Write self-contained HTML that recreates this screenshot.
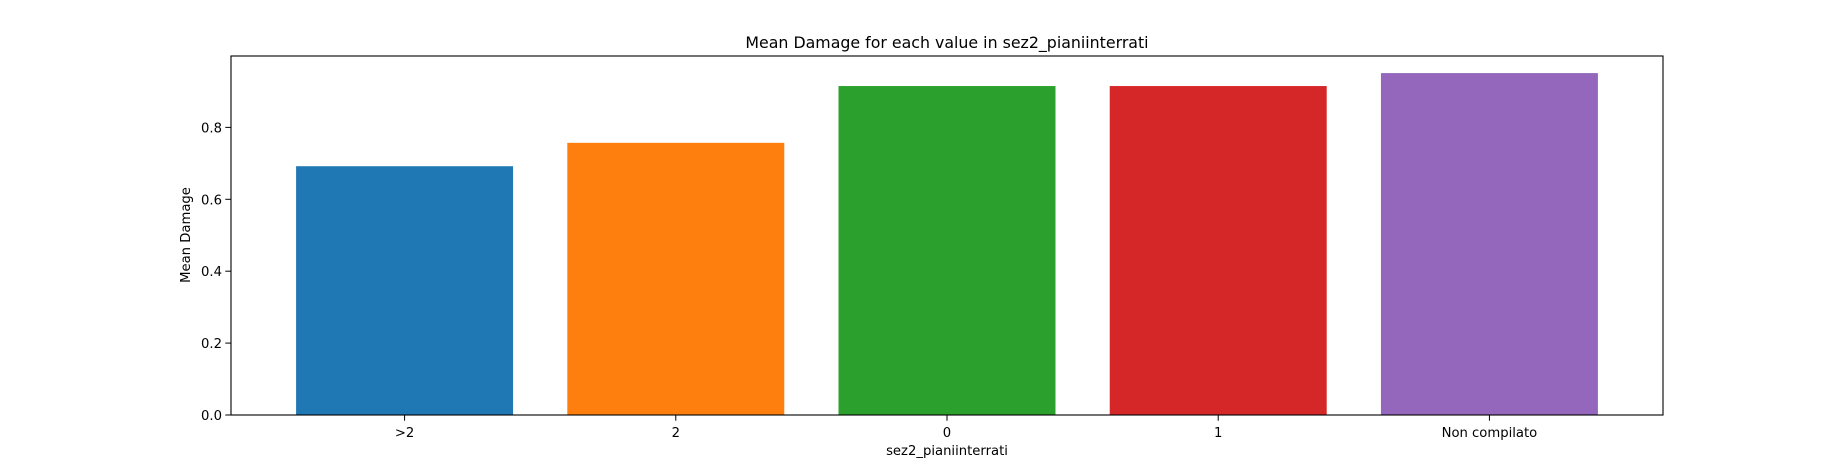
<!DOCTYPE html>
<html><head><meta charset="utf-8"><style>
body{margin:0;background:#fff}
svg{display:block;font-family:"DejaVu Sans","Liberation Sans",sans-serif}
</style></head><body>
<svg id="chart" width="1848" height="466" viewBox="0 0 1848 466" xmlns="http://www.w3.org/2000/svg">
<rect width="1848" height="466" fill="#fff"/>
<text x="947" y="48" font-size="15.8" text-anchor="middle">Mean Damage for each value in sez2_pianiinterrati</text>
<g id="bars"></g>
<g id="axes"></g>
<text x="947" y="455" font-size="13.2" text-anchor="middle">sez2_pianiinterrati</text>
<text transform="translate(190,235) rotate(-90)" font-size="13.2" text-anchor="middle">Mean Damage</text>
</svg>
<script>
const categories = [">2","2","0","1","Non compilato"];
const values = [0.692, 0.757, 0.915, 0.915, 0.951];
const colors = ["#1f77b4","#ff7f0e","#2ca02c","#d62728","#9467bd"];
const yTicks = [0.0,0.2,0.4,0.6,0.8];
const yTickLabels = ["0.0","0.2","0.4","0.6","0.8"];

const L=231,R=1663,T=56,B=415;
const ymax=Math.max(...values)*1.05;
const xmin=-0.64, xmax=categories.length-1+0.64;
const xs=v=>L+(v-xmin)/(xmax-xmin)*(R-L);
const ys=v=>B-v/ymax*(B-T);
const NS="http://www.w3.org/2000/svg";
const bars=document.getElementById('bars'), axes=document.getElementById('axes');
function mk(tag,attrs,parent){const e=document.createElementNS(NS,tag);for(const k in attrs)e.setAttribute(k,attrs[k]);parent.appendChild(e);return e;}
values.forEach((v,i)=>{
  const r=mk('rect',{x:xs(i-0.4),y:ys(v),width:xs(i+0.4)-xs(i-0.4),height:B-ys(v),fill:colors[i]},bars);
  
  
  const t=mk('line',{x1:xs(i),x2:xs(i),y1:B,y2:B+5.7,stroke:'#000','stroke-width':1},axes);
  
  
  const lb=mk('text',{x:xs(i),y:B+22,'font-size':13.2,'text-anchor':'middle'},axes);
  lb.textContent=categories[i];
  
  
});
yTicks.forEach((v,i)=>{
  const t=mk('line',{x1:L-5.7,x2:L,y1:ys(v),y2:ys(v),stroke:'#000','stroke-width':1},axes);
  
  
  const lb=mk('text',{x:L-9,y:ys(v)+5,'font-size':13.2,'text-anchor':'end'},axes);
  lb.textContent=yTickLabels[i];
  
  
});
const f=mk('rect',{x:L,y:T,width:R-L,height:B-T,fill:'none',stroke:'#000','stroke-width':1.1},axes);


</script>
</body></html>
